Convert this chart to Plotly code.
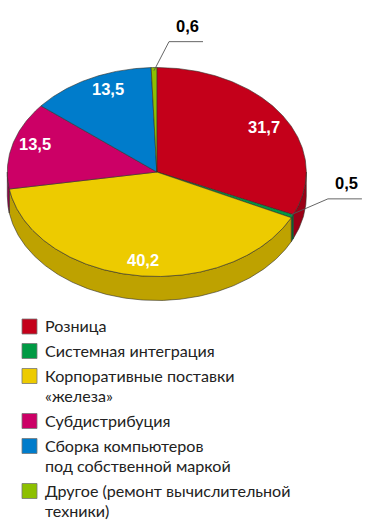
import math
import plotly.graph_objects as go

categories = [["Розница"], ["Системная интеграция"], ["Корпоративные поставки", "«железа»"],
              ["Субдистрибуция"], ["Сборка компьютеров", "под собственной маркой"],
              ["Другое (ремонт вычислительной", "техники)"]]
values = [31.7, 0.5, 40.2, 13.5, 13.5, 0.6]
value_labels = ["31,7", "0,5", "40,2", "13,5", "13,5", "0,6"]
top_colors = ["#C4001A", "#009A44", "#EDCB00", "#CC0066", "#007CCB", "#8DC000"]
side_colors = ["#9A0016", "#006B30", "#BEA200", "#99004C", "#005A96", "#668C00"]

W, H = 373, 520
CX, CY, RX, RY, DEPTH = 156.8, 172, 149.5, 104.5, 24
STEP = 0.5
KEY_X, TEXT_X = 29.5, 45
KEY_ROWS = [326.5, 351, 376, 421, 446, 491]
LINE_H = 20


def px(a, r=1.0):
    return CX + RX * r * math.sin(math.radians(a))


def py(a, r=1.0, drop=0.0):
    return CY - RY * r * math.cos(math.radians(a)) + drop


def arc(a0, a1):
    n = max(2, int(abs(a1 - a0) / STEP) + 1)
    return [a0 + (a1 - a0) * i / (n - 1) for i in range(n)]


total = sum(values)
bounds = [0.0]
for v in values:
    bounds.append(bounds[-1] + v / total * 360)

fig = go.Figure()
EDGE = dict(color="#33302a", width=0.6)

# side walls (front half only)
for i in range(len(values)):
    a0, a1 = max(bounds[i], 90), min(bounds[i + 1], 270)
    if a1 <= a0:
        continue
    t = arc(a0, a1)
    xs = [px(a) for a in t] + [px(a) for a in reversed(t)] + [px(t[0])]
    ys = [py(a) for a in t] + [py(a, drop=DEPTH) for a in reversed(t)] + [py(t[0])]
    fig.add_trace(go.Scatter(x=xs, y=ys, mode="lines", fill="toself", fillcolor=side_colors[i],
                             line=EDGE, hoverinfo="skip", showlegend=False))

# top slices
for i in range(len(values)):
    t = arc(bounds[i], bounds[i + 1])
    xs = [CX] + [px(a) for a in t] + [CX]
    ys = [CY] + [py(a) for a in t] + [CY]
    fig.add_trace(go.Scatter(x=xs, y=ys, mode="lines", fill="toself", fillcolor=top_colors[i],
                             line=EDGE, hoverinfo="skip", showlegend=False))

# key: swatches and text
fig.add_trace(go.Scatter(x=[KEY_X] * len(values), y=KEY_ROWS, mode="markers", hoverinfo="skip",
                         showlegend=False,
                         marker=dict(symbol="square", size=15, color=top_colors,
                                     line=dict(color="#777", width=0.8))))
for row, lines in zip(KEY_ROWS, categories):
    for j, line in enumerate(lines):
        fig.add_annotation(x=TEXT_X, y=row + j * LINE_H, text=line, showarrow=False,
                           font=dict(family="Lato", size=16.1, color="#222"),
                           xanchor="left", yanchor="middle", xshift=-2, yshift=1)

# leader lines for the two thin slices (start, elbow offset, run length)
leaders = {1: (37, -16, 34), 5: (15, -29, 34)}
for i, (dx, dy, run) in leaders.items():
    mid = (bounds[i] + bounds[i + 1]) / 2
    x0, y0 = px(mid, 0.99), py(mid, 0.97)
    fig.add_trace(go.Scatter(x=[x0, x0 + dx, x0 + dx + run], y=[y0, y0 + dy, y0 + dy],
                             mode="lines", line=dict(color="#555", width=0.9),
                             hoverinfo="skip", showlegend=False))

# value labels: radial factor + nudge
placement = [(0.85, 1, 3), (1.0, 54, -33), (0.85, 4, 0), (0.85, 1, -5), (0.85, 8, -3), (1.0, 34, -42)]
for i, lab in enumerate(value_labels):
    mid = (bounds[i] + bounds[i + 1]) / 2
    f, sx, sy = placement[i]
    fig.add_annotation(x=px(mid, f) + sx, y=py(mid, f) + sy, text="<b>%s</b>" % lab, showarrow=False,
                       font=dict(family="Liberation Sans", size=16.5,
                                 color="#000" if values[i] < 1 else "#fff"),
                       xanchor="center", yanchor="middle")

fig.update_layout(
    width=W, height=H, margin=dict(l=0, r=0, t=0, b=0, autoexpand=False),
    paper_bgcolor="#fff", plot_bgcolor="#fff",
    xaxis=dict(range=[0, W], visible=False, fixedrange=True),
    yaxis=dict(range=[H, 0], visible=False, fixedrange=True),
    showlegend=False,
)
fig.write_html("out.html", config=dict(displayModeBar=False),
               post_script="document.body.style.margin='0';document.documentElement.style.overflow='hidden';")
